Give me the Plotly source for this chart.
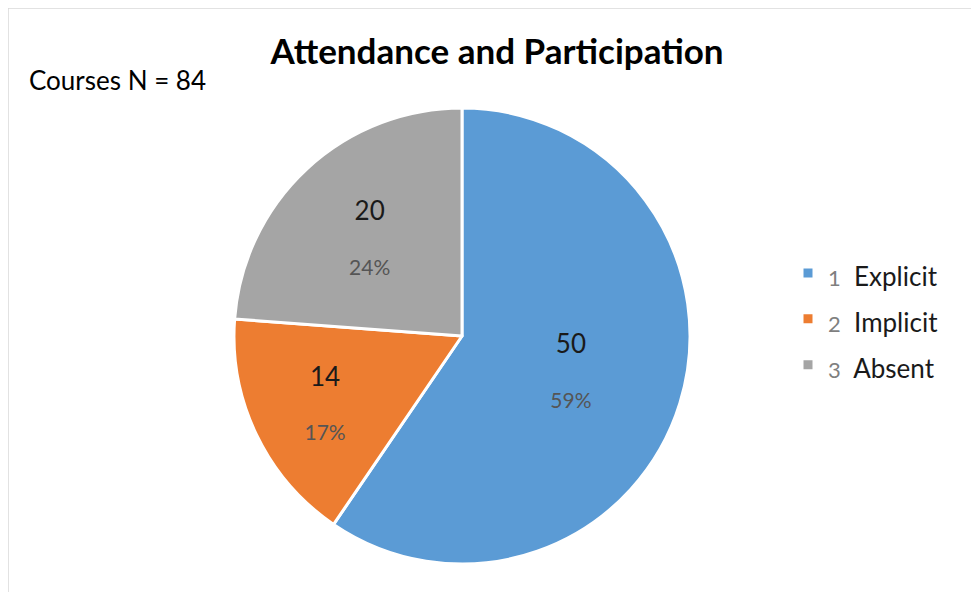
import plotly.graph_objects as go

categories = ["Explicit", "Implicit", "Absent"]
numbers = ["1", "2", "3"]
values = [50, 14, 20]
percent_labels = ["59%", "17%", "24%"]
colors = ["#5B9BD5", "#ED7D31", "#A5A5A5"]

W, H = 979, 592
OFF = 8  # page body offset
cx, cy, r = 462 - OFF, 336 - OFF, 228

legend_labels = [f"<span style='font-size:26px'><span style='color:#7f7f7f;font-size:22px'>{n}</span>  {c}</span>"
                 for n, c in zip(numbers, categories)]

fig = go.Figure(go.Pie(
    labels=legend_labels,
    values=values,
    customdata=percent_labels,
    sort=False,
    direction="clockwise",
    rotation=0,
    marker=dict(colors=colors, line=dict(color="white", width=3)),
    textposition="inside",
    insidetextorientation="horizontal",
    texttemplate="<span style='font-size:26px;color:#1a1a1a'>%{value}</span><br><br><span style='font-size:21px;color:#555555'>%{customdata}</span>",
    textfont=dict(family="Lato, Open Sans, sans-serif", size=21),
    hoverinfo="skip",
    domain=dict(x=[(cx - r) / W, (cx + r) / W], y=[(H - cy - r) / H, (H - cy + r) / H]),
))

fig.update_layout(
    width=W, height=H,
    margin=dict(l=0, r=0, t=0, b=0),
    paper_bgcolor="white",
    font=dict(family="Lato, Open Sans, sans-serif", color="#000000"),
    title=dict(text="<b>Attendance and Participation</b>", x=(497 - OFF) / W, xanchor="center",
               y=1 - (52 - OFF) / H, yanchor="middle", font=dict(size=35, color="#000000")),
    legend=dict(x=(788 - OFF) / W, y=1 - (245 - OFF) / H, xanchor="left", yanchor="top",
                font=dict(size=33, color="#1a1a1a"), itemwidth=30,
                bgcolor="rgba(0,0,0,0)"),
    annotations=[dict(text="Courses N = 84", x=(27 - OFF) / W, y=1 - (80 - OFF) / H, xref="paper", yref="paper",
                      xanchor="left", yanchor="middle", showarrow=False,
                      font=dict(size=26, color="#000000"))],
    shapes=[dict(type="rect", xref="paper", yref="paper", x0=0, x1=1.01, y0=-0.01, y1=1,
                 line=dict(color="#d9d9d9", width=1.5))],
)

fig.write_html("out.html")
